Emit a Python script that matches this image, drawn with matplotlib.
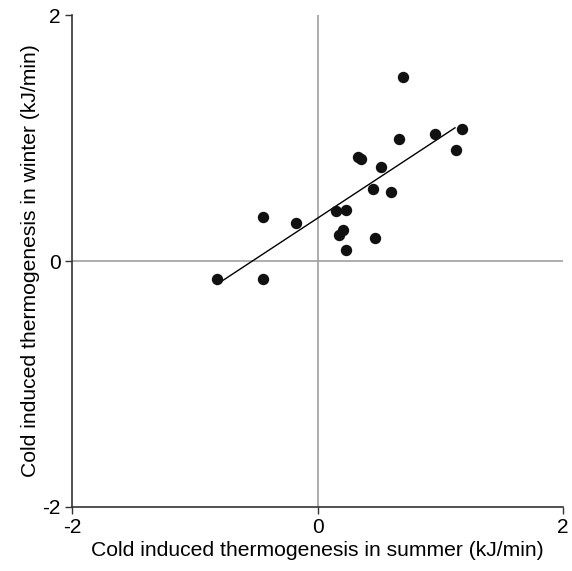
import matplotlib
matplotlib.use('Agg')
import matplotlib.pyplot as plt

# values
summer = [-0.816, -0.442, -0.442, -0.173, 0.151, 0.230, 0.178, 0.205, 0.230, 0.327,
          0.354, 0.517, 0.450, 0.599, 0.471, 0.666, 0.699, 0.955, 1.131, 1.175]
winter = [-0.150, -0.150, 0.359, 0.311, 0.405, 0.413, 0.215, 0.250, 0.091, 0.844,
          0.833, 0.763, 0.589, 0.565, 0.185, 0.988, 1.494, 1.034, 0.904, 1.072]
fit_x = [-0.82, 1.12]
fit_y = [-0.19, 1.083]
ticks = [-2, 0, 2]

plt.rcParams['font.family'] = ['Liberation Sans', 'DejaVu Sans']
plt.rcParams['axes.unicode_minus'] = False

fig = plt.figure(figsize=(5.72, 5.71), dpi=100)
ax = fig.add_axes([0.1259, 0.1121, 0.8584, 0.8616])

ax.axhline(0, color='#a0a0a0', lw=1.2, zorder=1)
ax.axvline(0, color='#a0a0a0', lw=1.2, zorder=1)
ax.plot(fit_x, fit_y, color='black', lw=1.0, zorder=2)
ax.plot(summer, winter, 'o', color='#111111', ms=8.2, mec='none', zorder=3)

ax.set_xlim(-2, 2); ax.set_ylim(-2, 2)
ax.set_xticks(ticks); ax.set_yticks(ticks)
ax.spines['top'].set_visible(False); ax.spines['right'].set_visible(False)
for s in ['left', 'bottom']:
    ax.spines[s].set_color('#333333'); ax.spines[s].set_linewidth(1.2)
ax.tick_params(direction='out', length=5, width=1.0, labelsize=15, color='#333333', pad=3)
ax.set_xlabel('Cold induced thermogenesis in summer (kJ/min)', fontsize=15.2, labelpad=3)
ax.set_ylabel('Cold induced thermogenesis in winter (kJ/min)', fontsize=15.2, labelpad=2)

fig.savefig('out.png', dpi=100)
